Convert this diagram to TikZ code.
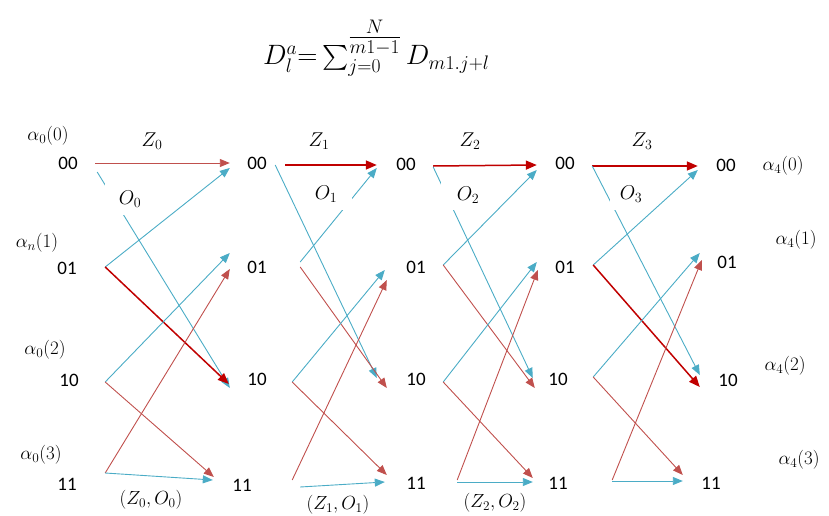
\RequirePackage{fix-cm}
\documentclass[tikz,border=0pt]{standalone}
\usepackage{amsmath}
\usepackage{fontspec}
\usetikzlibrary{arrows.meta}
\newfontfamily\carlito{Carlito}
\definecolor{branchred}{HTML}{C0504D}
\definecolor{branchblue}{HTML}{4BACC6}
\definecolor{branchdark}{HTML}{C00000}

\begin{document}
\begin{tikzpicture}[
		x=1pt,y=-1pt,
		state node/.style={inner sep=0pt,minimum width=24pt,minimum height=12pt,
			font=\carlito\fontsize{19}{22}\selectfont},
		alpha label/.style={inner sep=0pt,font=\fontsize{19}{22}\selectfont},
		z label/.style={inner sep=0pt,font=\fontsize{20}{24}\selectfont},
		o label/.style={inner sep=0pt,fill=white,minimum height=32pt,
			font=\fontsize{20}{24}\selectfont},
		red branch/.style={-{Triangle[length=10pt,width=8pt]},line width=0.9pt,branchred},
		blue branch/.style={-{Triangle[length=10pt,width=8pt]},line width=0.9pt,branchblue},
		bold branch/.style={-{Triangle[length=11pt,width=9pt]},line width=1.5pt,branchdark}
		]
		\useasboundingbox (0,0) rectangle (829,516);

		\node[anchor=base west,inner sep=0pt,font=\fontsize{28}{32}\selectfont] (formula) at (263,65)
			{$D_l^a{=}\sum_{j=0}^{\tfrac{N}{m1-1}} D_{m1.j+l}$};

		% states, time 0 .. 4
		\node[state node] (a00) at (68,163) {00};
		\node[state node] (a01) at (67,268) {01};
		\node[state node] (a10) at (69,380) {10};
		\node[state node] (a11) at (67,484) {11};
		\node[state node] (b00) at (257,163) {00};
		\node[state node] (b01) at (257,267) {01};
		\node[state node] (b10) at (257,379) {10};
		\node[state node] (b11) at (242,485) {11};
		\node[state node] (c00) at (406,164) {00};
		\node[state node] (c01) at (416,267) {01};
		\node[state node] (c10) at (416,379) {10};
		\node[state node] (c11) at (416,483) {11};
		\node[state node] (d00) at (565,163) {00};
		\node[state node] (d01) at (565,267) {01};
		\node[state node] (d10) at (558,379) {10};
		\node[state node] (d11) at (558,483) {11};
		\node[state node] (e00) at (726,165) {00};
		\node[state node] (e01) at (727,262) {01};
		\node[state node] (e10) at (728,380) {10};
		\node[state node] (e11) at (711,483) {11};

		% branches 0 -> 1
		\draw[red branch] ([xshift=15]a00.east) -- ([xshift=-15]b00.west);
		\draw[blue branch] ([xshift=17,yshift=-9]a00.east) -- ([xshift=-15,yshift=-9]b10.west);
		\draw[blue branch] ([xshift=26,yshift=1]a01.east) -- ([xshift=-15,yshift=-5]b00.west);
		\draw[bold branch] ([xshift=26,yshift=1]a01.east) -- ([xshift=-16,yshift=-5]b10.west);
		\draw[blue branch] ([xshift=24,yshift=-2]a10.east) -- ([xshift=-15,yshift=14]b01.west);
		\draw[red branch] ([xshift=24,yshift=-2]a10.east) -- ([xshift=-16,yshift=8]b11.west);
		\draw[red branch] ([xshift=26,yshift=11]a11.east) -- ([xshift=-15,yshift=-2]b01.west);
		\draw[blue branch] ([xshift=26,yshift=11]a11.east) -- ([xshift=-17,yshift=5]b11.west);

		% branches 1 -> 2
		\draw[bold branch] ([xshift=16,yshift=-2]b00.east) -- ([xshift=-17,yshift=-1]c00.west);
		\draw[blue branch] ([xshift=6,yshift=-2]b00.east) -- ([xshift=-27,yshift=1]c10.west);
		\draw[blue branch] ([xshift=31,yshift=5]b01.east) -- ([xshift=-17,yshift=-4]c00.west);
		\draw[red branch] ([xshift=31]b01.east) -- ([xshift=-17,yshift=-9]c10.west);
		\draw[blue branch] ([xshift=23,yshift=-3]b10.east) -- ([xshift=-19,yshift=-3]c01.west);
		\draw[red branch] ([xshift=23,yshift=-3]b10.east) -- ([xshift=-17,yshift=8]c11.west);
		\draw[red branch] ([xshift=38,yshift=5]b11.east) -- ([xshift=-17,yshift=-13]c01.west);
		\draw[blue branch] ([xshift=46,yshift=-2]b11.east) -- ([xshift=-19,yshift=1]c11.west);

		% branches 2 -> 3
		\draw[bold branch] ([xshift=15,yshift=-2]c00.east) -- ([xshift=-16,yshift=-2]d00.west);
		\draw[blue branch] ([xshift=15,yshift=-3]c00.east) -- ([xshift=-13,yshift=1]d10.west);
		\draw[blue branch] ([xshift=15,yshift=2]c01.east) -- ([xshift=-16,yshift=-7]d00.west);
		\draw[red branch] ([xshift=15,yshift=2]c01.east) -- ([xshift=-11,yshift=-9]d10.west);
		\draw[blue branch] ([xshift=15,yshift=-3]c10.east) -- ([xshift=-16,yshift=5]d01.west);
		\draw[red branch] ([xshift=15,yshift=-3]c10.east) -- ([xshift=-13,yshift=5]d11.west);
		\draw[red branch] ([xshift=29,yshift=3]c11.east) -- ([xshift=-15,yshift=-3]d01.west);
		\draw[blue branch] ([xshift=29,yshift=1]c11.east) -- ([xshift=-13,yshift=1]d11.west);

		% branches 3 -> 4
		\draw[bold branch] ([xshift=15,yshift=-3]d00.east) -- ([xshift=-16,yshift=-1]e00.west);
		\draw[blue branch] ([xshift=15,yshift=-3]d00.east) -- ([xshift=-16,yshift=5]e10.west);
		\draw[blue branch] ([xshift=16,yshift=2]d01.east) -- ([xshift=-16,yshift=-5]e00.west);
		\draw[bold branch] ([xshift=16,yshift=2]d01.east) -- ([xshift=-16,yshift=-7]e10.west);
		\draw[blue branch] ([xshift=23,yshift=2]d10.east) -- ([xshift=-15,yshift=9]e01.west);
		\draw[red branch] ([xshift=23,yshift=2]d10.east) -- ([xshift=-16,yshift=8]e11.west);
		\draw[red branch] ([xshift=42,yshift=3]d11.east) -- ([xshift=-13,yshift=2]e01.west);
		\draw[blue branch] ([xshift=42,yshift=2]d11.east) -- ([xshift=-16,yshift=2]e11.west);

		% labels
		\node[z label] (z0) at (152,141) {$Z_0$};
		\node[z label] (z1) at (319,141) {$Z_1$};
		\node[z label] (z2) at (470,141) {$Z_2$};
		\node[z label] (z3) at (642,141) {$Z_3$};
		\node[o label,minimum width=50pt] (o0) at (130,199) {$O_0$};
		\node[o label,minimum width=52pt] (o1) at (326,194) {$O_1$};
		\node[o label,minimum width=54pt,minimum height=30pt] (o2) at (468,195) {$O_2$};
		\node[o label,minimum width=42pt] (o3) at (631,194) {$O_3$};

		\node[alpha label] (al00) at (48,136) {$\alpha_0(0)$};
		\node[alpha label] (al01) at (37,243) {$\alpha_n(1)$};
		\node[alpha label] (al02) at (45,350) {$\alpha_0(2)$};
		\node[alpha label] (al03) at (41,455) {$\alpha_0(3)$};
		\node[alpha label] (al40) at (783,166) {$\alpha_4(0)$};
		\node[alpha label] (al41) at (796,240) {$\alpha_4(1)$};
		\node[alpha label] (al42) at (785,366) {$\alpha_4(2)$};
		\node[alpha label] (al43) at (799,460) {$\alpha_4(3)$};

		\node[alpha label] (zo0) at (151,500) {$(Z_0,O_0)$};
		\node[alpha label] (zo1) at (338,505) {$(Z_1,O_1)$};
		\node[alpha label] (zo2) at (495,503) {$(Z_2,O_2)$};
	\end{tikzpicture}
\end{document}
